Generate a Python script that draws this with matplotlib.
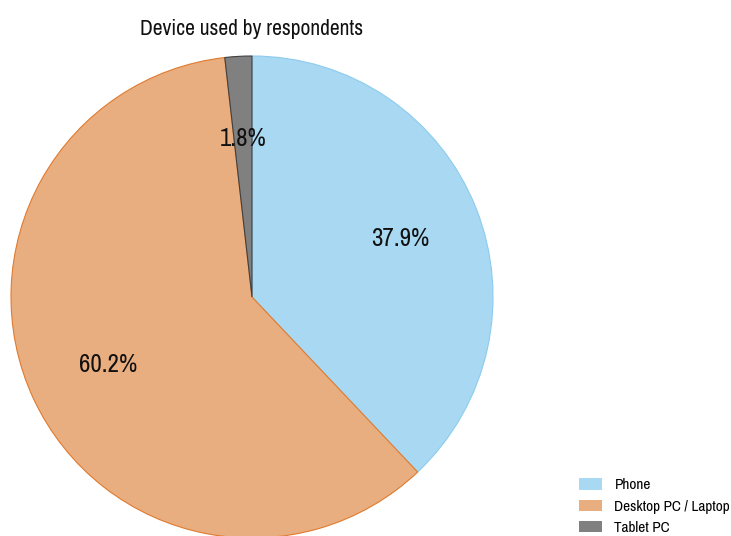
import matplotlib.pyplot as plt
from matplotlib.patches import Patch

plt.rcParams['font.family'] = ['Archivo Narrow', 'Liberation Sans', 'DejaVu Sans']

devices = ['Phone', 'Desktop PC / Laptop', 'Tablet PC']
shares = [37.9, 60.2, 1.8]
fills = ['#a9d9f2', '#e9ae7f', '#808080']
edges = ['#8ccbee', '#e07a2e', '#404040']

fig = plt.figure(figsize=(7.31, 5.36), dpi=100)
W, H = 731, 536
cx, cy, r = 252, 297, 241
ax = fig.add_axes([(cx - r) / W, (H - cy - r) / H, 2 * r / W, 2 * r / H])

# label each wedge with its own value, not a renormalised share
pct_labels = iter(f'{s:.1f}%' for s in shares)
wedges, texts, autotexts = ax.pie(
    shares, colors=fills, startangle=90, counterclock=False,
    autopct=lambda p: next(pct_labels), pctdistance=0.66, radius=1,
    wedgeprops=dict(linewidth=0.8),
    textprops=dict(fontsize=18, color='#111111'))
for w, ec in zip(wedges, edges):
    w.set_edgecolor(ec)
ax.set_xlim(-1, 1)
ax.set_ylim(-1, 1)
ax.set_aspect('auto')
ax.axis('off')

fig.text(cx / W, 1 - 29 / H, 'Device used by respondents', ha='center', va='center',
         fontsize=15.5, color='#111111')

handles = [Patch(facecolor=c, edgecolor='none') for c in fills]
fig.legend(handles, devices, loc='lower right', bbox_to_anchor=(730 / W, 1 / H),
           frameon=False, fontsize=11, handlelength=1.5, handleheight=0.75,
           labelspacing=0.48, handletextpad=0.8, borderpad=0, borderaxespad=0)

fig.savefig('out.png', dpi=100)
